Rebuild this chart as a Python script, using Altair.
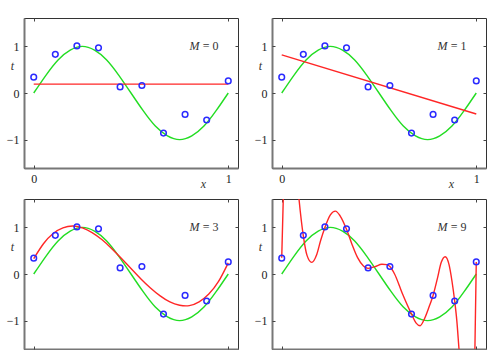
import altair as alt
import pandas as pd

SERIF = "'Liberation Serif', 'DejaVu Serif', serif"
GREEN = "#22dd22"
RED = "#ff2626"
BLUE = "#2a2aff"
W, H = 214, 150

# observed data points
x_obs = [0.0, 0.111, 0.222, 0.333, 0.444, 0.556, 0.667, 0.778, 0.889, 1.0]
t_obs = [0.34, 0.83, 1.01, 0.97, 0.13, 0.16, -0.86, -0.46, -0.58, 0.26]

# green curve
g_x = [0, 0.0625, 0.125, 0.1875, 0.25, 0.3125, 0.375, 0.4375, 0.5,
       0.5625, 0.625, 0.6875, 0.75, 0.8125, 0.875, 0.9375, 1.0]
g_y = [0, 0.38, 0.71, 0.92, 1.0, 0.92, 0.71, 0.38, 0,
       -0.38, -0.71, -0.92, -1.0, -0.92, -0.71, -0.38, 0]

# red fitted curves
m0_x = [0.0, 1.0]
m0_y = [0.19, 0.19]
m1_x = [0.0, 1.0]
m1_y = [0.82, -0.45]
m3_x = [0, 0.05, 0.1, 0.15, 0.2, 0.25, 0.3, 0.35, 0.4, 0.45, 0.5,
        0.55, 0.6, 0.65, 0.7, 0.75, 0.8, 0.85, 0.9, 0.95, 1.0]
m3_y = [0.33, 0.65, 0.87, 0.99, 1.03, 0.99, 0.89, 0.74, 0.55, 0.34, 0.12,
        -0.10, -0.30, -0.47, -0.60, -0.67, -0.68, -0.60, -0.43, -0.16, 0.24]
m9_x = [0, 0.008, 0.02, 0.045, 0.07, 0.089, 0.111, 0.13, 0.154, 0.18, 0.2,
        0.222, 0.25, 0.276, 0.3, 0.333, 0.36, 0.39, 0.42, 0.444, 0.48,
        0.515, 0.54, 0.556, 0.58, 0.62, 0.667, 0.69, 0.711, 0.735, 0.758,
        0.778, 0.8, 0.82, 0.84, 0.86, 0.875, 0.889, 0.9, 0.911, 0.93,
        0.96, 0.985, 0.993, 1.0]
m9_y = [0.35, 1.62, 2.6, 3.0, 2.5, 1.6, 0.82, 0.40, 0.25, 0.42, 0.72,
        1.0, 1.27, 1.35, 1.25, 0.96, 0.65, 0.35, 0.17, 0.12, 0.16,
        0.21, 0.20, 0.16, 0.0, -0.42, -0.86, -1.05, -1.11, -0.95, -0.70,
        -0.46, -0.10, 0.25, 0.37, 0.20, -0.15, -0.58, -1.0, -1.6, -2.6,
        -3.2, -2.2, -1.6, 0.26]

labels = ["0", "1", "3", "9"]
fits = [(m0_x, m0_y), (m1_x, m1_y), (m3_x, m3_y), (m9_x, m9_y)]

xs = alt.Scale(domain=[-0.05, 1.05], nice=False, zero=False)
ys = alt.Scale(domain=[-1.61, 1.61], nice=False, zero=False)

lab = dict(labelFont=SERIF, labelFontSize=12, labelColor="#222", grid=False, format="d")
tick_style = dict(ticks=True, tickSize=3, tickColor="#444", tickWidth=1,
                  domain=False, labels=False, grid=False, title=None)


def panel(i):
    top = i < 2
    fx, fy = fits[i]
    df_g = pd.DataFrame({"x": g_x, "y": g_y})
    df_r = pd.DataFrame({"x": fx, "y": fy})
    df_p = pd.DataFrame({"x": x_obs, "y": t_obs})

    xaxis = dict(orient="bottom", values=[0, 1], ticks=False, labels=top,
                 labelPadding=5, domainColor="#777", domainWidth=2, **lab)
    if top:
        xaxis.update(title="x", titleFont=SERIF, titleFontStyle="italic",
                     titleFontWeight="normal", titleFontSize=12, titleColor="#333",
                     titleX=179, titleY=15, titleBaseline="middle", titleAlign="center")
    else:
        xaxis.update(title=None)
    yaxis = dict(orient="left", values=[-1, 0, 1], ticks=False, labelPadding=5,
                 domainColor="#777", domainWidth=2, title="t", titleFont=SERIF,
                 titleFontStyle="italic", titleFontWeight="normal", titleFontSize=12,
                 titleColor="#333", titleAngle=0, titleX=-12, titleY=47.5,
                 titleBaseline="middle", titleAlign="center", **lab)

    green = alt.Chart(df_g).mark_line(color=GREEN, strokeWidth=1.4,
                                       interpolate="natural", clip=True).encode(
        x=alt.X("x:Q", scale=xs, axis=alt.Axis(**xaxis)),
        y=alt.Y("y:Q", scale=ys, axis=alt.Axis(**yaxis)),
    )
    red = alt.Chart(df_r).mark_line(color=RED, strokeWidth=1.4,
                                     interpolate="monotone" if i == 3 else "natural",
                                     clip=True).encode(
        x=alt.X("x:Q", scale=xs, axis=alt.Axis(orient="top", offset=-H, values=[0, 1], **tick_style)),
        y=alt.Y("y:Q", scale=ys, axis=alt.Axis(orient="right", offset=-W, values=[-1, 0, 1], **tick_style)),
    )
    pts = alt.Chart(df_p).mark_point(shape="circle", filled=False, color=BLUE,
                                     strokeWidth=1.5, size=32, opacity=1).encode(
        x=alt.X("x:Q", scale=xs, axis=alt.Axis(orient="bottom", offset=-H, values=[0, 1], **tick_style)),
        y=alt.Y("y:Q", scale=ys, axis=alt.Axis(orient="left", offset=-W, values=[-1, 0, 1], **tick_style)),
    )
    df_t = pd.DataFrame({"x": [0.95], "y": [1.0], "s": ["= " + labels[i]], "m": ["M"]})
    t1 = alt.Chart(df_t).mark_text(align="right", baseline="middle", font=SERIF,
                                   fontSize=12, color="#333").encode(
        x=alt.X("x:Q", scale=xs, axis=None), y=alt.Y("y:Q", scale=ys, axis=None), text="s:N")
    t2 = alt.Chart(df_t).mark_text(align="right", baseline="middle", font=SERIF,
                                   fontSize=12, fontStyle="italic", color="#333", dx=-19).encode(
        x=alt.X("x:Q", scale=xs, axis=None), y=alt.Y("y:Q", scale=ys, axis=None), text="m:N")
    return alt.layer(green, red, pts, t1, t2).resolve_axis(
        x="independent", y="independent").properties(width=W, height=H)


chart = alt.concat(panel(0), panel(1), panel(2), panel(3), columns=2,
                   spacing={"row": 31, "column": 34}, bounds="flush").properties(
    padding={"left": 5, "top": 17, "right": 0, "bottom": 0},
    autosize=alt.AutoSizeParams(type="pad"),
).configure_view(stroke="#333", strokeWidth=1)

chart.save("out.html", embed_options={"renderer": "svg", "actions": False})
